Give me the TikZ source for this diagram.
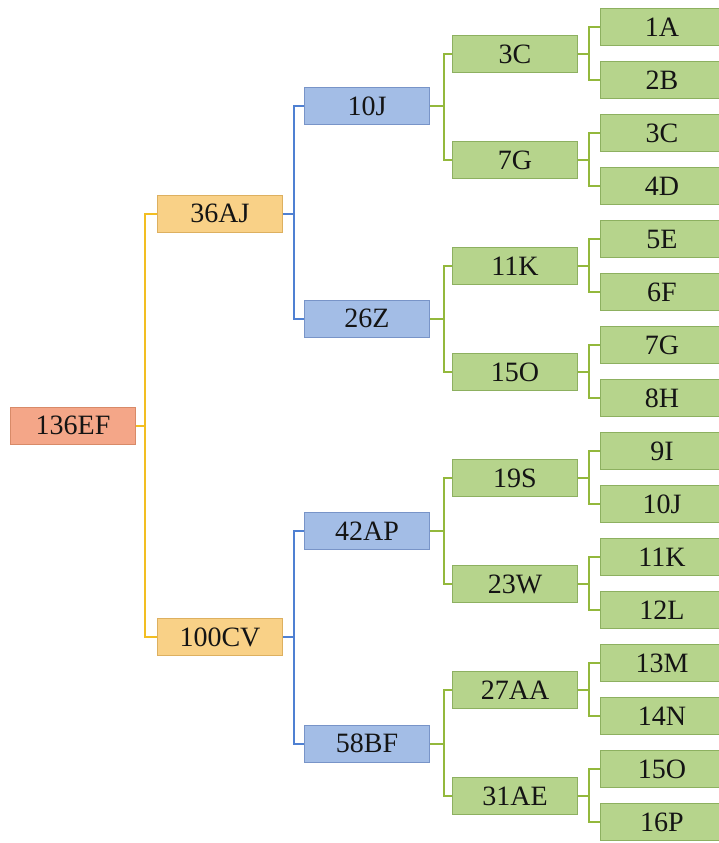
\documentclass[tikz,border=0pt]{standalone}
\usepackage{fontspec}
\setmainfont{Liberation Serif}
\definecolor{rootfill}{HTML}{F4A688}
\definecolor{rootdraw}{HTML}{D88A68}
\definecolor{orfill}{HTML}{F9D187}
\definecolor{ordraw}{HTML}{DDB060}
\definecolor{blfill}{HTML}{A3BDE6}
\definecolor{bldraw}{HTML}{7894C8}
\definecolor{grfill}{HTML}{B6D48C}
\definecolor{grdraw}{HTML}{8DB060}
\definecolor{yline}{HTML}{F2BE22}
\definecolor{bline}{HTML}{4F80D2}
\definecolor{gline}{HTML}{93B83C}
\definecolor{txt}{HTML}{141414}
\tikzset{
  box/.style={draw, line width=1pt, minimum width=125pt, minimum height=37pt, inner sep=0pt,
    text=txt, font=\fontsize{28}{30}\selectfont, anchor=west},
  rootbox/.style={box, fill=rootfill, draw=rootdraw},
  orbox/.style={box, fill=orfill, draw=ordraw},
  blbox/.style={box, fill=blfill, draw=bldraw},
  grbox/.style={box, fill=grfill, draw=grdraw},
  leafbox/.style={box, fill=grfill, draw=grdraw, minimum width=123pt},
  yconn/.style={draw=yline, line width=2pt},
  bconn/.style={draw=bline, line width=2pt},
  gconn/.style={draw=gline, line width=2pt},
}
\begin{document}
\begin{tikzpicture}[x=1pt,y=-1pt]
\useasboundingbox[fill=white] (0,0) rectangle (719,843);
% root
\node[rootbox] (r) at (10,425.5) {136EF};
% level 1
\node[orbox] (a1) at (157,213.5) {36AJ};
\node[orbox] (a2) at (157,637) {100CV};
% level 2
\node[blbox] (b1) at (304,106) {10J};
\node[blbox] (b2) at (304,318.5) {26Z};
\node[blbox] (b3) at (304,531) {42AP};
\node[blbox] (b4) at (304,743.5) {58BF};
% level 3
\foreach \i/\t in {1/3C,2/7G,3/11K,4/15O,5/19S,6/23W,7/27AA,8/31AE}{
  \node[grbox] (c\i) at (452,{54+(\i-1)*106}) {\t};
}
% leaves
\foreach \i/\t in {1/1A,2/2B,3/3C,4/4D,5/5E,6/6F,7/7G,8/8H,9/9I,10/10J,11/11K,12/12L,13/13M,14/14N,15/15O,16/16P}{
  \node[leafbox] (d\i) at (600,{27+(\i-1)*53}) {\t};
}
% connectors
\foreach \c in {a1,a2}{ \draw[yconn] (r.east) -- ++(9,0) |- (\c.west); }
\draw[bconn] (a1.east) -- ++(11,0) |- (b1.west);
\draw[bconn] (a1.east) -- ++(11,0) |- (b2.west);
\draw[bconn] (a2.east) -- ++(11,0) |- (b3.west);
\draw[bconn] (a2.east) -- ++(11,0) |- (b4.west);
\foreach \p/\x/\y in {b1/c1/c2,b2/c3/c4,b3/c5/c6,b4/c7/c8}{
  \draw[gconn] (\p.east) -- ++(14,0) |- (\x.west);
  \draw[gconn] (\p.east) -- ++(14,0) |- (\y.west);
}
\foreach \p/\x/\y in {c1/d1/d2,c2/d3/d4,c3/d5/d6,c4/d7/d8,c5/d9/d10,c6/d11/d12,c7/d13/d14,c8/d15/d16}{
  \draw[gconn] (\p.east) -- ++(11,0) |- (\x.west);
  \draw[gconn] (\p.east) -- ++(11,0) |- (\y.west);
}
\end{tikzpicture}
\end{document}
